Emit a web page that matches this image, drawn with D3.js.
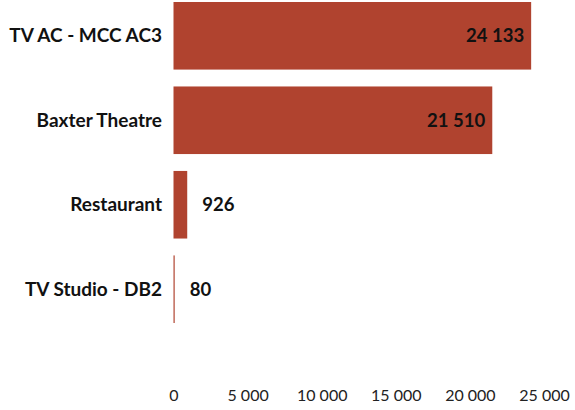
<!DOCTYPE html>
<html>
<head>
<meta charset="utf-8">
<script src="https://cdn.jsdelivr.net/npm/d3@7"></script>
<style>
  body { margin: 0; background: #fff; }
  svg { font-family: Lato, sans-serif; }
</style>
</head>
<body>
<svg width="575" height="410"></svg>
<script>
const categories = ["TV AC - MCC AC3", "Baxter Theatre", "Restaurant", "TV Studio - DB2"];
const values = [24133, 21510, 926, 80];
const tickValues = [0, 5000, 10000, 15000, 20000, 25000];

const fmt = (v) => d3.format(",")(v).replace(/,/g, " ");

const svg = d3.select("svg");

const x = d3.scaleLinear()
  .domain([0, 25000])
  .range([173.5, 544]);

const y = d3.scaleBand()
  .domain(categories)
  .range([2, 323])
  .paddingInner(0.2)
  .paddingOuter(0);

const DATA = categories.map((c, i) => ({name: c, value: values[i]}));

svg.selectAll(".bar")
  .data(DATA)
  .enter()
  .append("rect")
  .classed("bar", true)
  .attr("x", x(0))
  .attr("y", d => y(d.name))
  .attr("width", d => x(d.value) - x(0))
  .attr("height", y.bandwidth())
  .attr("fill", "#b0432f");

// category labels
svg.selectAll(".cat")
  .data(DATA)
  .enter()
  .append("text")
  .classed("cat", true)
  .attr("x", 162)
  .attr("y", d => y(d.name) + y.bandwidth() / 2)
  .attr("dy", "0.35em")
  .attr("text-anchor", "end")
  .attr("font-size", 19)
  .attr("font-weight", "bold")
  .attr("fill", "#111")
  .text(d => d.name);

// value labels
svg.selectAll(".val")
  .data(DATA)
  .enter()
  .append("text")
  .classed("val", true)
  .attr("x", d => (x(d.value) - x(0) > 80) ? x(d.value) - 7 : x(d.value) + 15)
  .attr("y", d => y(d.name) + y.bandwidth() / 2)
  .attr("dy", "0.35em")
  .attr("text-anchor", d => (x(d.value) - x(0) > 80) ? "end" : "start")
  .attr("font-size", 18.5)
  .attr("font-weight", "bold")
  .attr("fill", "#111")
  .text(d => fmt(d.value));

// x axis
const axis = svg.append("g")
  .attr("transform", "translate(0,390)")
  .call(d3.axisBottom(x).tickValues(tickValues).tickSize(0).tickPadding(0).tickFormat(fmt));
axis.select(".domain").remove();
axis.selectAll("text")
  .attr("font-family", "Lato, sans-serif")
  .attr("font-size", 16)
  .attr("fill", "#222");
</script>
</body>
</html>
